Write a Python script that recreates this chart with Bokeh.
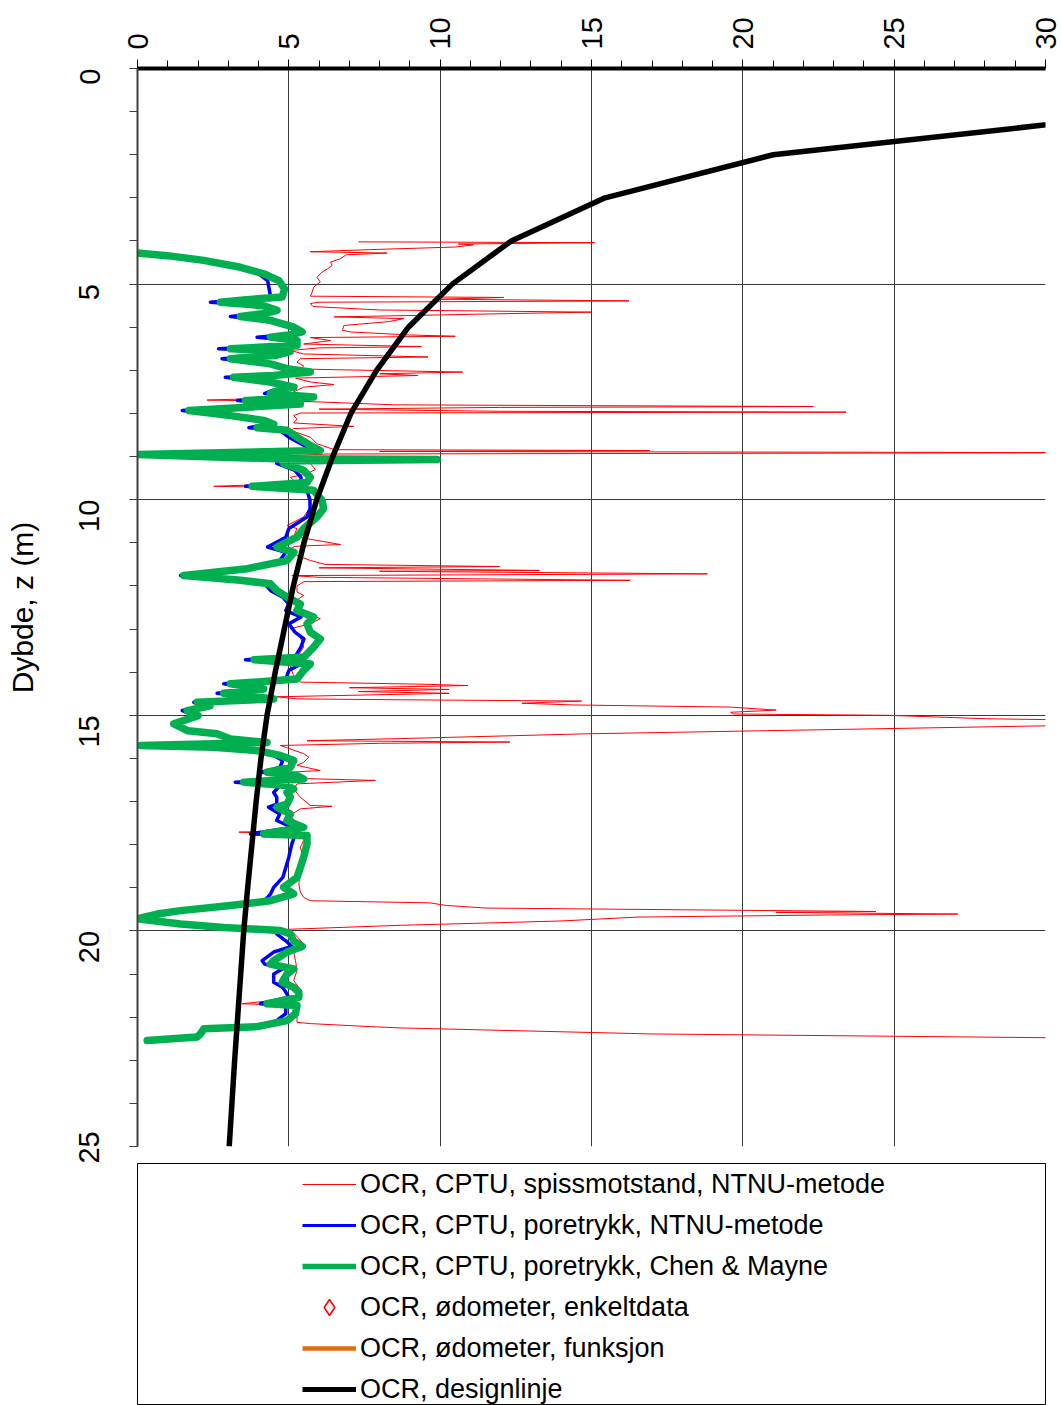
import math
from bokeh.plotting import figure
from bokeh.models import Range1d, FixedTicker, Legend, LegendItem
from bokeh.layouts import column
from bokeh.embed import file_html
from bokeh.resources import INLINE

# ---------------- data ----------------
x_ticks = [0, 5, 10, 15, 20, 25, 30]
x_minor = list(range(0, 31))
y_ticks = [0, 5, 10, 15, 20, 25]
y_minor = list(range(0, 26))

# design line (OCR vs depth)
design_depth = [1, 2, 3, 4, 5, 6, 7, 8, 9, 10, 11, 12, 13, 14, 15, 16, 17, 18, 19, 20, 21, 22, 23, 24, 25]
design_ocr = [34, 21, 15.45, 12.35, 10.4, 8.95, 7.9, 7.05, 6.45, 5.92, 5.5, 5.15, 4.85, 4.55, 4.28,
              4.08, 3.92, 3.78, 3.64, 3.51, 3.41, 3.31, 3.21, 3.12, 3.03]

# CPTU pore pressure based OCR (shared depths)
cptu_depth = [4.28, 4.34, 4.45, 4.61, 4.76, 4.92, 5.11, 5.30, 5.36, 5.42,
              5.50, 5.61, 5.68, 5.75, 5.84, 6.00, 6.11, 6.18, 6.23, 6.31,
              6.42, 6.50, 6.56, 6.65, 6.73, 6.85, 6.96, 7.04, 7.12, 7.16,
              7.27, 7.39, 7.48, 7.54, 7.62, 7.70, 7.78, 7.86, 7.93, 8.05,
              8.16, 8.25, 8.33, 8.39, 8.55, 8.74, 8.86, 8.95, 9.02, 9.05,
              9.07, 9.10, 9.16, 9.32, 9.48, 9.60, 9.69, 9.78, 10.02, 10.21,
              10.40, 10.67, 10.87, 11.10, 11.22, 11.41, 11.60, 11.76, 11.87, 11.95,
              12.11, 12.26, 12.42, 12.57, 12.72, 12.88, 13.07, 13.23, 13.42, 13.65,
              13.71, 13.81, 13.96, 14.16, 14.27, 14.39, 14.49, 14.62, 14.70, 14.78,
              14.89, 15.01, 15.20, 15.36, 15.43, 15.55, 15.63, 15.70, 15.74, 15.82,
              15.93, 16.05, 16.21, 16.32, 16.40, 16.48, 16.55, 16.63, 16.71, 16.79,
              16.90, 17.06, 17.13, 17.29, 17.44, 17.60, 17.75, 17.79, 17.98, 18.29,
              18.53, 18.76, 18.99, 19.14, 19.30, 19.41, 19.53, 19.61, 19.72, 19.84,
              19.92, 19.99, 20.07, 20.23, 20.36, 20.49, 20.69, 20.77, 20.88, 21.00,
              21.19, 21.31, 21.42, 21.54, 21.69, 21.73, 21.92, 22.08, 22.22, 22.27,
              22.39, 22.46, 22.54]

ocr_chen_mayne = [0, 0.98, 2.19, 3.40, 4.17, 4.67, 4.86, 4.78, 3.6, 2.74,
                  4.17, 4.61, 4.2, 3.40, 4.39, 5.17, 5.44, 5.0, 4.39, 5.27,
                  5.27, 3.07, 5.05, 4.6, 3.07, 4.39, 4.94, 5.71, 4.5, 3.18,
                  4.39, 5.17, 4.6, 4.39, 5.82, 3.57, 5.38, 3.5, 1.70, 3.07,
                  4.17, 4.5, 3.95, 4.94, 5.27, 5.71, 6.04, 0, 3.07, 4.6,
                  9.9, 4.8, 4.83, 5.49, 5.71, 5.60, 3.79, 5.82, 6.10, 6.15,
                  5.93, 5.49, 5.27, 4.61, 5.17, 4.94, 3.62, 1.53, 3.40, 4.39,
                  4.61, 4.94, 5.38, 5.27, 5.82, 5.60, 5.71, 6.04, 5.82, 5.5,
                  3.85, 5.71, 5.49, 5.27, 3.07, 4.17, 2.85, 4.50, 1.97, 2.4,
                  1.64, 2.0, 1.2, 1.67, 2.63, 3.07, 4.28, 0.1, 2.52, 3.95,
                  4.72, 5.16, 5.05, 4.28, 5.27, 5.49, 3.51, 4.94, 5.16, 4.94,
                  5.05, 4.94, 4.61, 5.05, 4.94, 5.49, 4.17, 5.60, 5.60, 5.49,
                  5.38, 5.27, 4.83, 5.16, 4.39, 3.07, 1.42, 0.65, 0, 1.42,
                  2.85, 4.72, 5.05, 5.16, 5.44, 4.94, 4.50, 4.39, 5.16, 4.94,
                  4.78, 5.16, 5.33, 5.33, 4.28, 5.27, 5.22, 4.94, 3.95, 2.19,
                  2.08, 1.97, 0.32]

ocr_pore_ntnu = [0, 0.95, 2.15, 3.35, 4.0, 4.3, 4.35, 4.4, 3.4, 2.41,
                 4.0, 4.4, 4.0, 3.07, 4.2, 5.0, 5.3, 4.8, 3.95, 5.1,
                 5.1, 2.68, 4.9, 4.4, 2.79, 4.2, 4.8, 5.5, 4.3, 2.9,
                 4.1, 5.0, 4.4, 4.2, 5.6, 3.3, 5.2, 3.3, 1.48, 2.9,
                 4.0, 4.3, 3.68, 4.7, 5.0, 5.5, 5.8, 0, 2.9, 4.4,
                 4.5, 4.6, 4.6, 5.2, 5.4, 5.4, 3.57, 5.6, 5.7, 5.7,
                 5.6, 5.0, 4.9, 4.3, 4.9, 4.7, 3.5, 1.42, 3.2, 4.2,
                 4.4, 4.8, 5.0, 4.9, 5.4, 5.0, 5.2, 5.5, 5.4, 5.2,
                 3.57, 5.4, 5.0, 4.9, 2.85, 4.0, 2.63, 4.4, 1.86, 2.3,
                 1.48, 1.9, 1.13, 1.6, 2.68, 3.0, 4.2, 0.1, 2.45, 3.8,
                 4.5, 4.8, 4.7, 4.1, 5.0, 5.2, 3.23, 4.7, 4.6, 4.5,
                 4.6, 4.6, 4.33, 4.7, 4.6, 5.1, 3.73, 5.2, 5.1, 5.0,
                 4.9, 4.8, 4.5, 4.4, 4.2, 3.0, 1.4, 0.6, 0, 1.4,
                 2.8, 4.6, 4.6, 4.9, 5.1, 4.5, 4.12, 4.2, 4.8, 4.5,
                 4.5, 4.8, 4.9, 5.0, 4.06, 4.9, 4.9, 4.6, 3.9, 2.15,
                 2.0, 1.9, 0.3]

# CPTU cone resistance based OCR
qc_depth = [4.02, 4.04, 4.07, 4.09, 4.14, 4.20, 4.25, 4.28, 4.32, 4.41,
            4.49, 4.57, 4.65, 4.72, 4.84, 4.95, 5.07, 5.19, 5.28, 5.31,
            5.35, 5.39, 5.42, 5.45, 5.52, 5.60, 5.65, 5.69, 5.73, 5.76,
            5.80, 5.87, 5.96, 6.07, 6.11, 6.18, 6.21, 6.24, 6.31, 6.39,
            6.45, 6.48, 6.54, 6.62, 6.69, 6.73, 6.81, 6.90, 6.97, 7.04,
            7.08, 7.12, 7.18, 7.27, 7.33, 7.39, 7.50, 7.62, 7.69, 7.72,
            7.80, 7.84, 7.86, 7.90, 7.95, 7.97, 7.99, 8.05, 8.13, 8.22,
            8.30, 8.35, 8.39, 8.55, 8.70, 8.84, 8.86, 8.88, 8.91, 8.94,
            8.99, 9.10, 9.16, 9.30, 9.40, 9.48, 9.55, 9.62, 9.69, 9.72,
            9.94, 10.17, 10.40, 10.60, 10.67, 10.85, 11.04, 11.08, 11.14, 11.29,
            11.41, 11.50, 11.55, 11.58, 11.64, 11.66, 11.72, 11.76, 11.80, 11.87,
            11.90, 12.00, 12.14, 12.22, 12.38, 12.57, 12.76, 12.88, 12.99, 13.19,
            13.42, 13.65, 13.88, 14.08, 14.23, 14.28, 14.31, 14.36, 14.40, 14.45,
            14.49, 14.57, 14.62, 14.64, 14.67, 14.72, 14.76, 14.81, 14.88, 14.93,
            14.97, 15.00, 15.08, 15.12, 15.22, 15.43, 15.54, 15.59, 15.62, 15.65,
            15.70, 15.89, 15.97, 16.09, 16.16, 16.28, 16.32, 16.47, 16.51, 16.59,
            16.71, 16.90, 17.09, 17.11, 17.17, 17.32, 17.52, 17.67, 17.71, 17.75,
            17.90, 18.06, 18.21, 18.37, 18.52, 18.68, 18.91, 19.10, 19.22, 19.30,
            19.35, 19.41, 19.47, 19.55, 19.57, 19.61, 19.63, 19.68, 19.77, 19.87,
            19.97, 20.05, 20.34, 20.49, 20.69, 20.92, 21.15, 21.31, 21.54, 21.69,
            21.73, 22.00, 22.12, 22.15, 22.22, 22.25, 22.39, 22.49]

ocr_cone_ntnu = [7.3, 15.1, 10.6, 11.1, 10.5, 7.7, 5.71, 8.25, 6.9, 6.71,
                 6.38, 6.43, 6.27, 6.10, 5.93, 6.04, 5.82, 5.77, 5.71, 12.1,
                 10.0, 16.24, 6.0, 5.71, 5.8, 8.0, 14.99, 11.78, 8.9, 6.5,
                 8.8, 8.3, 6.82, 6.77, 7.04, 9.0, 10.5, 5.71, 6.38, 5.49,
                 9.38, 6.0, 5.05, 5.49, 9.6, 5.38, 5.27, 5.49, 5.38, 10.74,
                 8.0, 9.27, 5.22, 5.71, 6.49, 5.49, 5.16, 5.49, 2.3, 5.49,
                 8.5, 22.33, 12.0, 6.0, 12.0, 23.41, 5.38, 5.16, 5.27, 5.16,
                 7.15, 5.16, 5.05, 5.71, 5.93, 6.5, 16.93, 8.0, 32, 6.3,
                 4.72, 5.49, 5.71, 5.88, 5.60, 5.05, 5.16, 5.2, 2.52, 5.4,
                 5.71, 5.71, 5.49, 4.94, 5.27, 5.16, 6.71, 5.2, 5.05, 5.27,
                 5.71, 6.2, 11.96, 6.0, 13.28, 8.0, 18.83, 5.1, 6.0, 16.28,
                 5.5, 5.27, 5.27, 5.49, 5.16, 5.38, 6.04, 5.71, 5.05, 5.38,
                 5.49, 5.27, 5.05, 5.16, 5.38, 9.5, 10.92, 7.0, 10.29, 7.3,
                 10.3, 4.61, 5.3, 8.7, 14.67, 12.7, 14.4, 19.6, 21.1, 19.6,
                 19.7, 24.8, 28.05, 32, 32, 14.8, 8.7, 5.6, 12.3, 8.0,
                 4.72, 5.49, 5.66, 5.49, 5.27, 6.04, 5.05, 5.60, 7.86, 5.27,
                 5.16, 5.38, 5.71, 6.43, 5.38, 5.05, 5.27, 5.49, 3.35, 5.38,
                 5.49, 5.38, 5.44, 5.38, 5.33, 5.38, 5.33, 5.38, 5.49, 5.71,
                 9.66, 10.2, 11.5, 24.4, 21.1, 27.1, 22.9, 16.5, 14.0, 8.7,
                 4.72, 5.16, 5.55, 5.16, 5.22, 5.27, 5.16, 5.33, 5.38, 3.46,
                 5.33, 5.27, 5.27, 5.71, 7.7, 8.7, 17.0, 32]

# oedometer series: no values inside the plotted window (NaN = no data)
NAN = float("nan")
oed_depth = [NAN]
oed_ocr = [NAN]
oed_func_depth = [NAN]
oed_func_ocr = [NAN]

labels = ["OCR, CPTU, spissmotstand, NTNU-metode",
          "OCR, CPTU, poretrykk, NTNU-metode",
          "OCR, CPTU, poretrykk, Chen & Mayne",
          "OCR, ødometer, enkeltdata",
          "OCR, ødometer, funksjon",
          "OCR, designlinje"]
y_title = "Dybde, z (m)"

RED = "#FF0000"
BLUE = "#0000FF"
GREEN = "#00B050"
ORANGE = "#E46C0A"
FONT = "Liberation Sans"

# ---------------- chart ----------------
p = figure(width=1061, height=1163,
           x_range=Range1d(0, 30), y_range=Range1d(25, 0),
           x_axis_location="above",
           toolbar_location=None, output_backend="svg",
           min_border_left=137, min_border_right=16,
           min_border_top=68, min_border_bottom=17)
p.outline_line_color = None
p.background_fill_color = "white"
p.border_fill_color = "white"

p.line(ocr_cone_ntnu, qc_depth, line_color=RED, line_width=1)
p.line(ocr_pore_ntnu, cptu_depth, line_color=BLUE, line_width=3.5, line_join="round")
p.line(ocr_chen_mayne, cptu_depth, line_color=GREEN, line_width=7.5, line_join="round", line_cap="round")
p.scatter(oed_ocr, oed_depth, marker="diamond", size=20,
          line_color=RED, fill_color="#eeeeee", line_width=1.5)
p.line(oed_func_ocr, oed_func_depth, line_color=ORANGE, line_width=4.5)
p.line(design_ocr, design_depth, line_color="black", line_width=5.5)

xa = p.xaxis[0]
xa.ticker = FixedTicker(ticks=x_ticks, minor_ticks=x_minor)
xa.axis_line_width = 4
xa.axis_line_color = "black"
xa.major_tick_out = 9
xa.major_tick_in = 0
xa.minor_tick_out = 8
xa.minor_tick_in = 0
xa.major_tick_line_color = "black"
xa.minor_tick_line_color = "black"
xa.major_label_orientation = math.pi / 2
xa.major_label_standoff = 10
xa.major_label_text_font = FONT
xa.major_label_text_font_size = "29px"
xa.major_label_text_color = "black"

ya = p.yaxis[0]
ya.ticker = FixedTicker(ticks=y_ticks, minor_ticks=y_minor)
ya.axis_line_width = 2
ya.axis_line_color = "#404040"
ya.major_tick_out = 8
ya.major_tick_in = 0
ya.minor_tick_out = 8
ya.minor_tick_in = 0
ya.major_tick_line_color = "#404040"
ya.minor_tick_line_color = "#404040"
ya.major_label_orientation = math.pi / 2
ya.major_label_standoff = 40
ya.major_label_text_font = FONT
ya.major_label_text_font_size = "29px"
ya.major_label_text_color = "black"
ya.axis_label = y_title
ya.axis_label_text_font = FONT
ya.axis_label_text_font_size = "30px"
ya.axis_label_text_font_style = "normal"
ya.axis_label_text_color = "black"
ya.axis_label_standoff = 28

p.xgrid.grid_line_color = "#3a3a3a"
p.xgrid.grid_line_width = 1
p.ygrid.grid_line_color = "#3a3a3a"
p.ygrid.grid_line_width = 1

# ---------------- legend box ----------------
q = figure(width=1061, height=242, x_range=Range1d(0, 1), y_range=Range1d(0, 1),
           toolbar_location=None, output_backend="svg",
           x_axis_type=None, y_axis_type=None,
           min_border_left=131, min_border_right=4, min_border_top=0, min_border_bottom=0)
q.grid.visible = False
q.outline_line_color = "black"
q.outline_line_width = 1
q.background_fill_color = "white"
q.border_fill_color = "white"

# legend swatches (styled like the series; no data points inside this box)
s1 = q.line(oed_func_ocr, oed_func_depth, line_color=RED, line_width=1)
s2 = q.line(oed_func_ocr, oed_func_depth, line_color=BLUE, line_width=3)
s3 = q.line(oed_func_ocr, oed_func_depth, line_color=GREEN, line_width=5.5)
s4 = q.scatter(oed_ocr, oed_depth, marker="diamond", size=20,
               line_color=RED, fill_color="#eeeeee", line_width=1.5)
s5 = q.line(oed_func_ocr, oed_func_depth, line_color=ORANGE, line_width=4.5)
s6 = q.line(oed_func_ocr, oed_func_depth, line_color="black", line_width=5)

legend = Legend(items=[LegendItem(label=l, renderers=[r]) for l, r in zip(labels, [s1, s2, s3, s4, s5, s6])],
                location=(165, -4), padding=0, spacing=1,
                glyph_width=54, glyph_height=40, label_height=40, label_standoff=4,
                label_text_font=FONT, label_text_font_size="27px", label_text_color="black",
                border_line_color=None, background_fill_alpha=0)
q.add_layout(legend)

layout = column(p, q)
open("out.html", "w").write(file_html(layout, INLINE))
